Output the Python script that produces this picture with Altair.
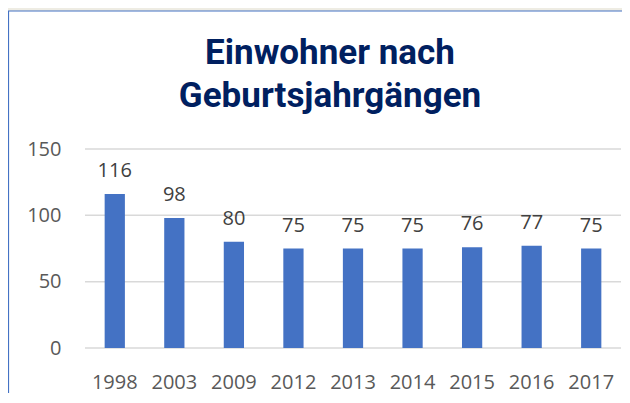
import altair as alt
import pandas as pd

years = ["1998", "2003", "2009", "2012", "2013", "2014", "2015", "2016", "2017"]
values = [116, 98, 80, 75, 75, 75, 76, 77, 75]
y_ticks = [0, 50, 100, 150]
title_lines = ["Einwohner nach", "Geburtsjahrgängen"]

df = pd.DataFrame({"Jahr": years, "Einwohner": values})
grid_df = pd.DataFrame({"Einwohner": y_ticks})

W, H = 536, 199
LABEL_FONT = "Open Sans"

yscale = alt.Scale(domain=[0, 150], nice=False)

x = alt.X(
    "Jahr:N", sort=years, title=None,
    scale=alt.Scale(paddingInner=0.66, paddingOuter=0.33),
    axis=alt.Axis(labelAngle=0, domain=False, ticks=False, labelPadding=24,
                  labelFontSize=20, labelColor="#595959", labelFont=LABEL_FONT,
                  zindex=1),
)
y = alt.Y(
    "Einwohner:Q", title=None, scale=yscale,
    axis=alt.Axis(values=y_ticks, domain=False, ticks=False, labelPadding=24,
                  grid=False, labelFontSize=20, labelColor="#595959",
                  labelFont=LABEL_FONT, zindex=1),
)

frame = alt.Chart(pd.DataFrame({"f": [0]})).mark_rect(
    fill="white", stroke="#4472C4", strokeWidth=1.2
).encode(
    x=alt.value(-76.5), x2=alt.value(W + 60),
    y=alt.value(-138), y2=alt.value(H + 120),
)

grid = alt.Chart(grid_df).mark_rule(color="#D9D9D9", strokeWidth=1.5).encode(
    y=alt.Y("Einwohner:Q", scale=yscale, title=None)
)

bars = alt.Chart(df).mark_bar(color="#4472C4").encode(x=x, y=y)

labels = alt.Chart(df).mark_text(
    baseline="alphabetic", dy=-17, fontSize=20, color="#404040", font=LABEL_FONT
).encode(x=alt.X("Jahr:N", sort=years), y="Einwohner:Q", text="Einwohner:Q")

chart = alt.layer(frame, grid, bars, labels).properties(
    width=W, height=H,
    title=alt.TitleParams(
        title_lines, font="Roboto", fontWeight="bold", fontSize=35,
        color="#002060", lineHeight=43, anchor="middle", frame="group",
        baseline="alphabetic", dx=-23, offset=-132,
    ),
    autosize=alt.AutoSizeParams(type="none"),
    padding={"left": 77, "top": 141, "right": 1, "bottom": 45},
    background="#EEECE3",
).configure_view(stroke=None)

chart.save("out.html", embed_options={"renderer": "svg", "actions": False})
